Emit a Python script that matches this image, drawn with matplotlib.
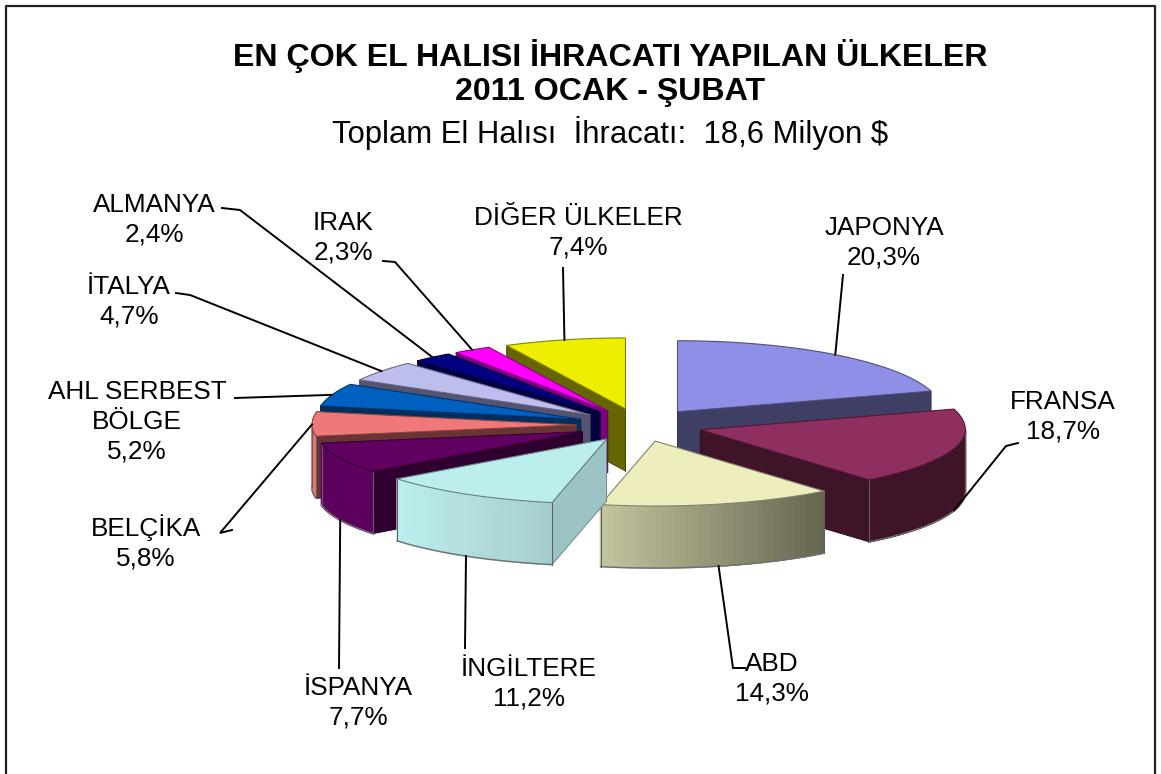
import numpy as np
import matplotlib
matplotlib.use('Agg')
import matplotlib.pyplot as plt
from matplotlib.colors import to_rgb

plt.rcParams['font.family'] = ['Liberation Sans', 'DejaVu Sans']

# data, clockwise from 12 o'clock
countries = ['JAPONYA', 'FRANSA', 'ABD', 'İNGİLTERE', 'İSPANYA', 'BELÇİKA',
             'AHL SERBEST\nBÖLGE', 'İTALYA', 'ALMANYA', 'IRAK', 'DİĞER ÜLKELER']
shares = [20.3, 18.7, 14.3, 11.2, 7.7, 5.8, 5.2, 4.7, 2.4, 2.3, 7.4]

top_colors = ['#8F8FE8', '#8F2F5F', '#EDEDBE', '#BCEEEE', '#600060', '#F07878',
              '#0060C0', '#BEBEEE', '#000080', '#FF00FF', '#EEEE00']
side_colors = ['#3F3F66', '#3F1428', '#C4C4A0', '#9CC4C4', '#2F002F', '#6A3434',
               '#002F5F', '#545470', '#000040', '#7F007F', '#666600']
# left and right colour of the outer wall
wall_colors = [('#3F3F66', '#3F3F66'), ('#3F1428', '#3F1428'), ('#C4C4A0', '#65654F'),
               ('#BCEEEE', '#A6CCCC'), ('#5E005E', '#5E005E'), ('#E87878', '#E87878'),
               ('#002F5F', '#002F5F'), ('#545470', '#545470'), ('#000040', '#000040'),
               ('#7F007F', '#7F007F'), ('#666600', '#666600')]

# back slices first
draw_order = [0, 10, 9, 8, 7, 6, 5, 4, 1, 2, 3]

# pie geometry in pixels, far half of the ellipse is a bit taller than the near half
cx, cy = 640, 425
rx = 265
ry_far, ry_near = 71, 65
depth = 62
shift_x, shift_y = 63, 16.5

# label centre and the leader points next to the label
label_pos = [(884, 243), (1063, 417), (772, 679), (529, 684), (358, 703), (146, 542),
             (137, 422), (129, 302), (154, 220), (343, 238), (578, 233)]
leader_pts = [[(843, 275)], [(1018, 443), (1006, 446)], [(745, 668), (733, 668)],
              [(465, 648)], [(339, 668)], [(232, 530), (220, 533)],
              [(235, 398)], [(176, 293), (190, 295)], [(222, 208), (240, 210)],
              [(383, 261), (395, 262)], [(563, 268)]]


def ell(ox, oy, a):
    c = np.cos(a)
    return ox + rx * np.sin(a), oy - np.where(c > 0, ry_far, ry_near) * c


def apex(mid):
    return cx + shift_x * np.sin(mid), cy - shift_y * np.cos(mid)


fig = plt.figure(figsize=(11.61, 7.74), dpi=100)
ax = fig.add_axes([0, 0, 1, 1])
ax.set_xlim(0, 1161)
ax.set_ylim(774, 0)
ax.axis('off')

# frame
ax.plot([6, 6, 1155, 1155], [774, 6, 6, 774], color='#202020', lw=1.6, zorder=1)

edges = np.cumsum([0] + shares) / sum(shares) * 2 * np.pi

z = 10
for i in draw_order:
    a0, a1 = edges[i], edges[i + 1]
    mid = (a0 + a1) / 2
    ox, oy = apex(mid)
    edge = tuple(0.55 * c for c in to_rgb(top_colors[i]))

    # flat walls of the cut, only if they face the viewer
    for a, show in ((a0, np.sin(a0) < 0), (a1, np.sin(a1) > 0)):
        if show:
            x, y = ell(ox, oy, a)
            ax.fill([ox, x, x, ox], [oy, y, y + depth, oy + depth], fc=side_colors[i],
                    ec=tuple(0.7 * c for c in to_rgb(side_colors[i])), lw=0.7, zorder=z)
            z += 1

    # outer wall, cut in strips for the gradient
    lo, hi = max(a0, np.pi / 2), min(a1, 1.5 * np.pi)
    if lo < hi:
        ang = np.linspace(lo, hi, 40)
        xs, ys = ell(ox, oy, ang)
        c_left, c_right = np.array(to_rgb(wall_colors[i][0])), np.array(to_rgb(wall_colors[i][1]))
        for k in range(len(ang) - 1):
            t = ((xs[k] + xs[k + 1]) / 2 - xs.min()) / (xs.max() - xs.min())
            col = c_left + (c_right - c_left) * t
            ax.fill([xs[k], xs[k + 1], xs[k + 1], xs[k]],
                    [ys[k], ys[k + 1], ys[k + 1] + depth, ys[k] + depth],
                    fc=col, ec=col, lw=1.2, zorder=z)
        ax.plot(xs, ys + depth, color='#707070', lw=1.0, zorder=z)
        ax.plot([xs[0], xs[0]], [ys[0], ys[0] + depth], color='#606060', lw=0.8, zorder=z)
        ax.plot([xs[-1], xs[-1]], [ys[-1], ys[-1] + depth], color='#606060', lw=0.8, zorder=z)
        z += 1

    # top face
    ang = np.linspace(a0, a1, 80)
    xs, ys = ell(ox, oy, ang)
    ax.fill(np.r_[ox, xs], np.r_[oy, ys], fc=top_colors[i], ec=edge, lw=0.8, zorder=z)
    z += 1

# leaders and labels
for i, name in enumerate(countries):
    mid = (edges[i] + edges[i + 1]) / 2
    ox, oy = apex(mid)
    ex, ey = ell(ox, oy, mid)
    if np.cos(mid) < -0.2:
        ey += depth
    pts = leader_pts[i] + [(ex, ey)]
    ax.plot([p[0] for p in pts], [p[1] for p in pts], color='black', lw=1.4, zorder=200,
            solid_joinstyle='miter')
    label = name + '\n' + f'{shares[i]:.1f}%'.replace('.', ',')
    ax.text(label_pos[i][0], label_pos[i][1], label, ha='center', va='center',
            fontsize=18.8, linespacing=1.29, zorder=210)

ax.text(610, 56, 'EN ÇOK EL HALISI İHRACATI YAPILAN ÜLKELER', ha='center', va='center',
        fontsize=23.1, fontweight='bold')
ax.text(610, 92, '2011 OCAK - ŞUBAT', ha='center', va='center', fontsize=23.1, fontweight='bold')
ax.text(610, 133, 'Toplam El Halısı  İhracatı:  18,6 Milyon $', ha='center', va='center', fontsize=22.3)

fig.savefig('out.png', dpi=100)
